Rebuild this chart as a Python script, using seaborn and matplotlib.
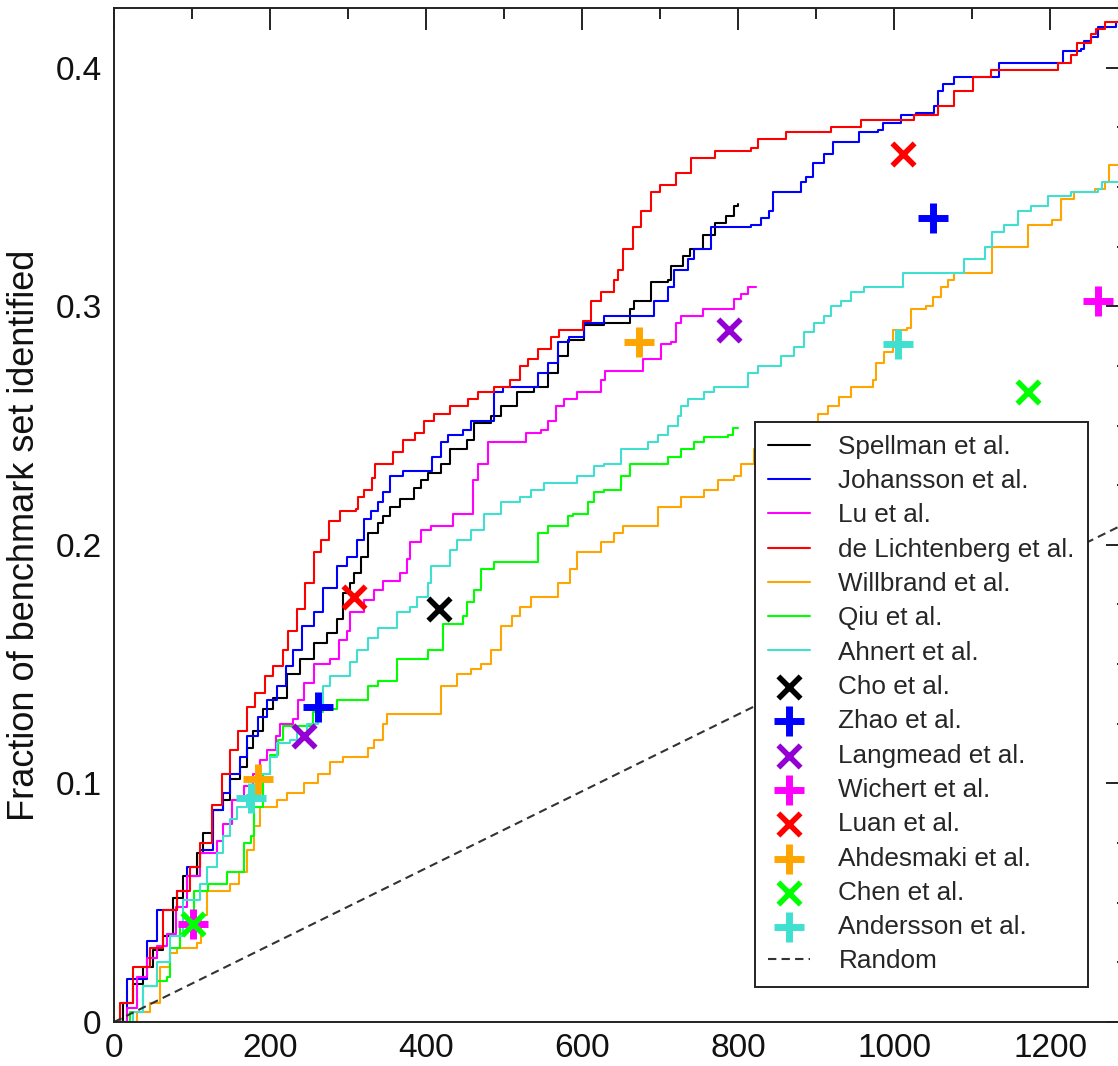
import matplotlib
matplotlib.use("Agg")
import matplotlib.pyplot as plt
from matplotlib.ticker import MultipleLocator, FixedLocator, FixedFormatter
import seaborn as sns

# ---- cumulative step curves (x = rank, y = fraction identified) ----
SPELLMAN_X = [0, 12, 24, 37, 50, 63, 76, 89, 107, 114, 127, 140, 149, 162, 171, 178, 191, 204, 222,
              239, 256, 273, 286, 294, 303, 307, 316, 325, 338, 345, 354, 367, 384, 393, 402, 419,
              431, 453, 461, 483, 496, 517, 538, 556, 569, 582, 602, 628, 662, 666, 688, 710, 714,
              730, 739, 755, 770, 785, 795, 800]
SPELLMAN_Y = [0, 0.008, 0.016, 0.023, 0.030, 0.036, 0.052, 0.061, 0.071, 0.079, 0.089, 0.093, 0.102,
              0.107, 0.115, 0.122, 0.131, 0.136, 0.146, 0.152, 0.159, 0.163, 0.169, 0.180, 0.184,
              0.188, 0.195, 0.205, 0.209, 0.212, 0.216, 0.219, 0.224, 0.227, 0.230, 0.234, 0.240,
              0.244, 0.251, 0.254, 0.258, 0.264, 0.266, 0.272, 0.279, 0.286, 0.292, 0.293, 0.299,
              0.302, 0.310, 0.311, 0.317, 0.321, 0.324, 0.330, 0.335, 0.338, 0.342, 0.343]

JOHANSSON_X = [0, 17, 42, 55, 81, 94, 110, 127, 140, 149, 162, 171, 184, 196, 209, 220, 230, 241,
               256, 268, 286, 299, 312, 320, 329, 338, 345, 354, 371, 397, 408, 419, 428, 448, 457,
               480, 487, 499, 538, 544, 556, 569, 583, 602, 628, 684, 692, 710, 718, 736, 743, 765,
               790, 816, 829, 840, 845, 877, 881, 887, 896, 910, 922, 955, 979, 986, 1009, 1028,
               1051, 1056, 1063, 1077, 1131, 1134, 1208, 1217, 1240, 1243, 1253, 1262, 1281, 1285,
               1300]
JOHANSSON_Y = [0, 0.018, 0.034, 0.047, 0.055, 0.065, 0.072, 0.089, 0.096, 0.104, 0.111, 0.120,
               0.128, 0.135, 0.141, 0.149, 0.156, 0.166, 0.172, 0.182, 0.191, 0.195, 0.202, 0.211,
               0.214, 0.218, 0.222, 0.229, 0.231, 0.231, 0.237, 0.243, 0.246, 0.248, 0.252, 0.252,
               0.264, 0.266, 0.266, 0.272, 0.276, 0.285, 0.287, 0.293, 0.296, 0.296, 0.302, 0.308,
               0.315, 0.320, 0.324, 0.333, 0.333, 0.334, 0.337, 0.340, 0.348, 0.348, 0.352, 0.354,
               0.360, 0.364, 0.369, 0.373, 0.374, 0.377, 0.380, 0.381, 0.384, 0.390, 0.393, 0.396,
               0.396, 0.402, 0.402, 0.407, 0.408, 0.411, 0.413, 0.417, 0.417, 0.419, 0.419]

LU_X = [0, 17, 30, 42, 55, 68, 80, 94, 110, 132, 140, 151, 166, 178, 187, 196, 207, 213, 230, 236,
        243, 256, 277, 288, 299, 303, 320, 333, 345, 367, 376, 380, 393, 406, 431, 435, 453, 460,
        467, 480, 525, 528, 547, 556, 566, 577, 594, 615, 624, 630, 675, 678, 697, 701, 714, 720,
        727, 755, 791, 795, 804, 813, 823]
LU_Y = [0, 0.006, 0.019, 0.027, 0.032, 0.037, 0.048, 0.061, 0.071, 0.076, 0.083, 0.093, 0.099,
        0.104, 0.110, 0.114, 0.120, 0.125, 0.127, 0.135, 0.142, 0.150, 0.152, 0.160, 0.164, 0.172,
        0.177, 0.181, 0.185, 0.188, 0.194, 0.201, 0.206, 0.208, 0.208, 0.213, 0.213, 0.227, 0.234,
        0.243, 0.243, 0.247, 0.248, 0.252, 0.258, 0.261, 0.264, 0.264, 0.269, 0.273, 0.273, 0.278,
        0.278, 0.284, 0.285, 0.293, 0.296, 0.299, 0.299, 0.303, 0.305, 0.308, 0.308]

LICHTENBERG_X = [0, 8, 24, 46, 63, 81, 98, 110, 126, 139, 149, 159, 171, 181, 194, 204, 216, 223,
                 235, 245, 256, 265, 275, 290, 310, 313, 320, 331, 335, 357, 370, 386, 397, 410,
                 431, 454, 466, 487, 508, 521, 531, 543, 560, 570, 596, 601, 611, 624, 641, 646,
                 652, 665, 675, 688, 700, 720, 740, 770, 816, 825, 861, 919, 958, 1026, 1056, 1077,
                 1101, 1124, 1210, 1227, 1234, 1253, 1259, 1270, 1300]
LICHTENBERG_Y = [0, 0.008, 0.023, 0.031, 0.047, 0.055, 0.065, 0.075, 0.091, 0.104, 0.114, 0.122,
                 0.132, 0.138, 0.145, 0.149, 0.156, 0.164, 0.173, 0.184, 0.197, 0.202, 0.210,
                 0.214, 0.215, 0.220, 0.223, 0.228, 0.234, 0.239, 0.244, 0.247, 0.252, 0.255,
                 0.258, 0.261, 0.264, 0.266, 0.269, 0.275, 0.278, 0.282, 0.287, 0.290, 0.290,
                 0.294, 0.302, 0.306, 0.311, 0.315, 0.324, 0.333, 0.340, 0.348, 0.351, 0.356,
                 0.362, 0.365, 0.3665, 0.370, 0.373, 0.375, 0.378, 0.380, 0.384, 0.390, 0.396,
                 0.399, 0.402, 0.4055, 0.4105, 0.414, 0.416, 0.419, 0.419]

WILLBRAND_X = [0, 30, 46, 59, 72, 81, 106, 112, 119, 149, 160, 171, 179, 187, 209, 222, 243, 261,
               277, 294, 325, 333, 345, 350, 410, 419, 440, 457, 470, 483, 496, 510, 521, 534, 569,
               585, 594, 624, 641, 653, 688, 697, 727, 756, 774, 795, 804, 820, 840, 860, 880, 902,
               915, 930, 945, 973, 977, 987, 999, 1016, 1022, 1041, 1050, 1060, 1069, 1077, 1112,
               1125, 1159, 1172, 1202, 1214, 1231, 1257, 1270, 1275, 1300]
WILLBRAND_Y = [0, 0.004, 0.008, 0.023, 0.029, 0.031, 0.033, 0.045, 0.055, 0.058, 0.063, 0.072,
               0.082, 0.090, 0.093, 0.096, 0.100, 0.104, 0.109, 0.111, 0.115, 0.118, 0.125, 0.129,
               0.129, 0.141, 0.146, 0.148, 0.150, 0.156, 0.166, 0.170, 0.174, 0.178, 0.184, 0.190,
               0.197, 0.201, 0.205, 0.208, 0.208, 0.216, 0.220, 0.223, 0.227, 0.229, 0.234, 0.240,
               0.245, 0.248, 0.250, 0.255, 0.258, 0.262, 0.266, 0.269, 0.276, 0.281, 0.290, 0.291,
               0.299, 0.300, 0.304, 0.308, 0.311, 0.314, 0.314, 0.325, 0.325, 0.334, 0.336, 0.345,
               0.348, 0.349, 0.352, 0.359, 0.361]

QIU_X = [0, 20, 37, 55, 68, 72, 85, 102, 120, 145, 166, 175, 180, 191, 200, 210, 217, 255, 268,
         286, 316, 325, 338, 354, 363, 397, 402, 422, 448, 453, 461, 470, 487, 538, 543, 556, 577,
         582, 589, 607, 615, 628, 650, 662, 705, 710, 727, 743, 756, 787, 793, 800]
QIU_Y = [0, 0.004, 0.015, 0.017, 0.019, 0.031, 0.040, 0.055, 0.058, 0.063, 0.075, 0.078, 0.090,
         0.104, 0.112, 0.118, 0.124, 0.130, 0.131, 0.135, 0.135, 0.141, 0.143, 0.143, 0.152, 0.152,
         0.156, 0.167, 0.170, 0.176, 0.181, 0.190, 0.193, 0.193, 0.205, 0.208, 0.208, 0.212, 0.213,
         0.218, 0.222, 0.223, 0.229, 0.234, 0.234, 0.237, 0.240, 0.243, 0.245, 0.246, 0.249, 0.249]

AHNERT_X = [0, 24, 37, 55, 72, 89, 110, 119, 132, 140, 149, 158, 170, 187, 200, 209, 226, 235,
            248, 261, 268, 277, 294, 303, 312, 325, 338, 363, 380, 389, 402, 406, 431, 440, 457,
            474, 496, 521, 534, 551, 594, 615, 628, 650, 684, 697, 710, 723, 727, 736, 756, 769,
            804, 813, 825, 855, 872, 885, 897, 910, 919, 932, 945, 962, 1005, 1012, 1077, 1090,
            1116, 1125, 1141, 1159, 1176, 1198, 1227, 1262, 1266, 1288, 1300]
AHNERT_Y = [0, 0.004, 0.015, 0.025, 0.036, 0.051, 0.058, 0.065, 0.071, 0.078, 0.085, 0.090, 0.095,
            0.104, 0.111, 0.117, 0.118, 0.121, 0.125, 0.132, 0.141, 0.145, 0.145, 0.151, 0.156,
            0.161, 0.165, 0.172, 0.174, 0.178, 0.184, 0.191, 0.198, 0.202, 0.206, 0.213, 0.218,
            0.220, 0.223, 0.226, 0.229, 0.233, 0.234, 0.240, 0.243, 0.246, 0.250, 0.254, 0.258,
            0.261, 0.264, 0.266, 0.266, 0.272, 0.275, 0.279, 0.283, 0.289, 0.293, 0.296, 0.300,
            0.302, 0.306, 0.308, 0.308, 0.314, 0.314, 0.320, 0.325, 0.331, 0.334, 0.340, 0.342,
            0.346, 0.348, 0.349, 0.352, 0.357, 0.359]

# ---- single-point methods ----
CHO_X, CHO_Y = [416], [0.173]
ZHAO_X, ZHAO_Y = [261, 1050], [0.132, 0.337]
LANGMEAD_X, LANGMEAD_Y = [243, 788], [0.120, 0.290]
WICHERT_X, WICHERT_Y = [101, 1262], [0.041, 0.302]
LUAN_X, LUAN_Y = [307, 1011], [0.178, 0.364]
AHDESMAKI_X, AHDESMAKI_Y = [185, 673], [0.102, 0.285]
CHEN_X, CHEN_Y = [101, 1172], [0.041, 0.264]
ANDERSSON_X, ANDERSSON_Y = [175, 1005], [0.094, 0.284]

RANDOM_X = [0, 1300]
RANDOM_Y = [0, 0.2095]

X_TICKS = [0, 200, 400, 600, 800, 1000, 1200]
X_TICK_LABELS = ["0", "200", "400", "600", "800", "1000", "1200"]
Y_TICKS = [0, 0.1, 0.2, 0.3, 0.4]
Y_TICK_LABELS = ["0", "0.1", "0.2", "0.3", "0.4"]

CURVES = [
    ("Spellman et al.", SPELLMAN_X, SPELLMAN_Y, "black"),
    ("Johansson et al.", JOHANSSON_X, JOHANSSON_Y, "#0000ff"),
    ("Lu et al.", LU_X, LU_Y, "#ff00ff"),
    ("de Lichtenberg et al.", LICHTENBERG_X, LICHTENBERG_Y, "#ff0000"),
    ("Willbrand et al.", WILLBRAND_X, WILLBRAND_Y, "#ffa500"),
    ("Qiu et al.", QIU_X, QIU_Y, "#00ff00"),
    ("Ahnert et al.", AHNERT_X, AHNERT_Y, "#40e0d0"),
]

POINTS = [
    ("Cho et al.", CHO_X, CHO_Y, "black", "x"),
    ("Zhao et al.", ZHAO_X, ZHAO_Y, "#0000ff", "+"),
    ("Langmead et al.", LANGMEAD_X, LANGMEAD_Y, "#9400d3", "x"),
    ("Wichert et al.", WICHERT_X, WICHERT_Y, "#ff00ff", "+"),
    ("Luan et al.", LUAN_X, LUAN_Y, "#ff0000", "x"),
    ("Ahdesmaki et al.", AHDESMAKI_X, AHDESMAKI_Y, "#ffa500", "+"),
    ("Chen et al.", CHEN_X, CHEN_Y, "#00ff00", "x"),
    ("Andersson et al.", ANDERSSON_X, ANDERSSON_Y, "#40e0d0", "+"),
]


def main():
    sns.set_theme(style="white")
    plt.rcParams["font.family"] = ["Liberation Sans", "DejaVu Sans"]

    fig = plt.figure(figsize=(11.18, 10.66), dpi=100)
    ax = fig.add_axes([0.102, 0.0413, 0.907, 0.9512])

    for name, xs, ys, color in CURVES:
        sns.lineplot(x=xs, y=ys, ax=ax, color=color, lw=1.5, drawstyle="steps-post",
                     estimator=None, sort=False, errorbar=None, label=name)

    sns.lineplot(x=RANDOM_X, y=RANDOM_Y, ax=ax, color="#333333", lw=1.5,
                 estimator=None, errorbar=None, label="Random", dashes=False)
    ax.lines[-1].set_dashes((4, 2.5))

    for name, xs, ys, color, marker in POINTS:
        if marker == "+":
            size, lw = 21 ** 2, 5
        else:
            size, lw = 16 ** 2, 4
        sns.scatterplot(x=xs, y=ys, ax=ax, color=color, marker=marker, s=size,
                        linewidth=lw, label=name, zorder=5)

    ax.set_xlim(0, 1300)
    ax.set_ylim(0, 0.425)
    ax.xaxis.set_major_locator(FixedLocator(X_TICKS))
    ax.xaxis.set_major_formatter(FixedFormatter(X_TICK_LABELS))
    ax.xaxis.set_minor_locator(MultipleLocator(100))
    ax.yaxis.set_major_locator(FixedLocator(Y_TICKS))
    ax.yaxis.set_major_formatter(FixedFormatter(Y_TICK_LABELS))
    ax.yaxis.set_minor_locator(MultipleLocator(0.025))

    ax.tick_params(which="both", direction="in", top=True, right=True, width=1.4,
                   color="#222222", labelsize=24, labelcolor="#111111")
    ax.tick_params(which="major", length=16)
    ax.tick_params(which="minor", length=8)
    ax.tick_params(axis="x", pad=8)
    ax.tick_params(axis="y", pad=9)
    for sp in ax.spines.values():
        sp.set_linewidth(1.4)
        sp.set_color("#222222")

    ax.set_ylabel("Fraction of benchmark set identified", fontsize=26, color="#111111")
    ax.yaxis.set_label_coords(-0.071, 0.48)

    handles, labels = ax.get_legend_handles_labels()
    lookup = dict(zip(labels, handles))
    order = [c[0] for c in CURVES] + [p[0] for p in POINTS] + ["Random"]
    leg = ax.legend([lookup[n] for n in order], order, loc="upper left",
                    bbox_to_anchor=(0.632, 0.592), fontsize=18.8, frameon=True,
                    fancybox=False, framealpha=1, edgecolor="#222222",
                    handlelength=1.6, handletextpad=1.1, labelspacing=0.395,
                    borderpad=0.5, borderaxespad=0, scatterpoints=1)
    leg.get_frame().set_linewidth(1.4)

    fig.savefig("out.png", dpi=100)
    plt.close(fig)


if __name__ == "__main__":
    main()
